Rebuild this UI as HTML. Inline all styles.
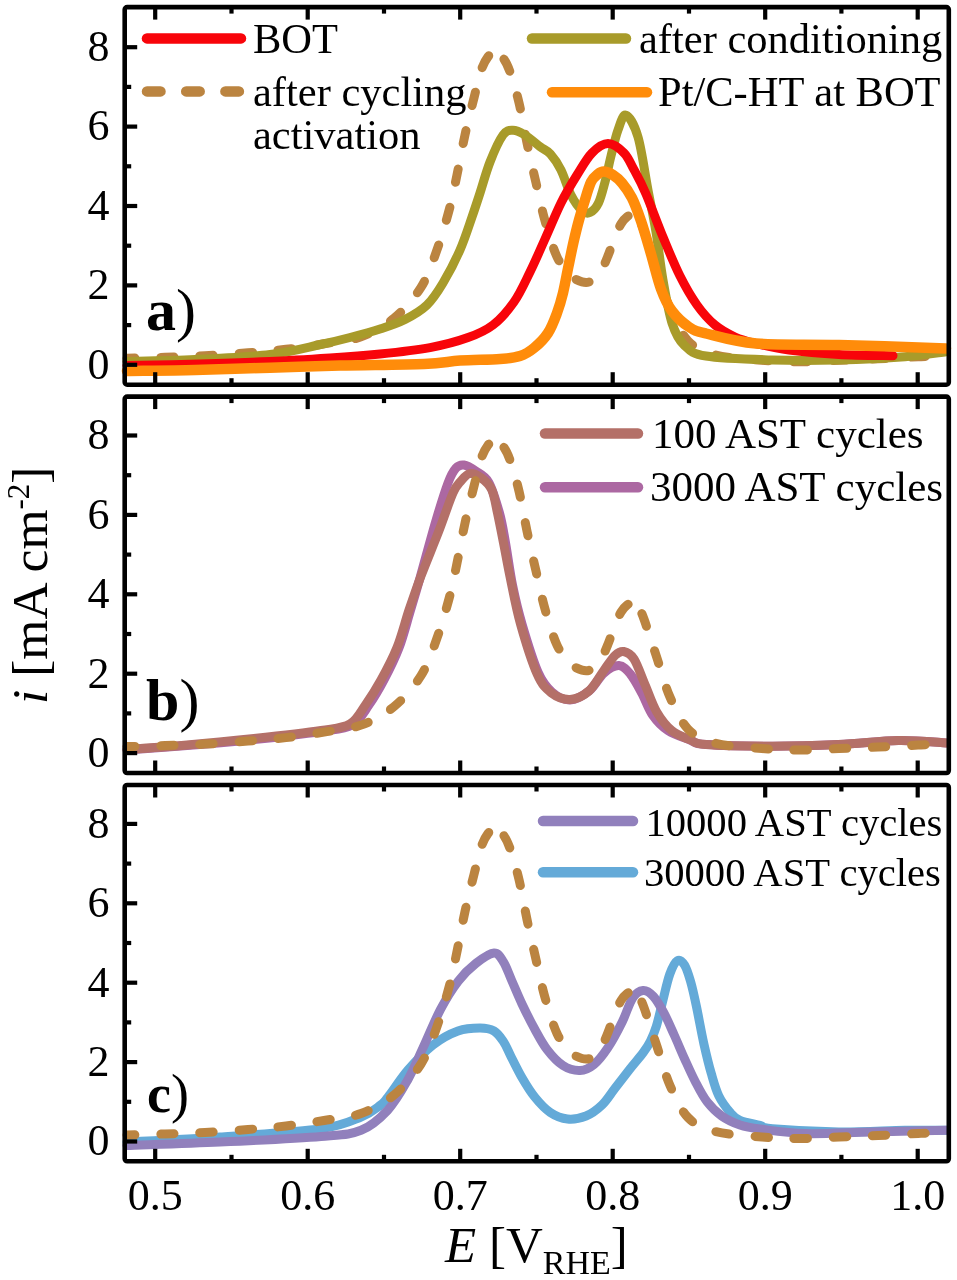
<!DOCTYPE html>
<html><head><meta charset="utf-8"><style>html,body{margin:0;padding:0;background:#fff;width:957px;height:1280px;overflow:hidden}</style></head>
<body><svg width="957" height="1280" viewBox="0 0 957 1280" style="display:block;filter:blur(0.45px);font-family:'Liberation Serif',serif"><path d="M127.0,358.3 C133.3,358.1 152.0,357.7 165.0,357.3 C178.0,356.9 191.2,356.6 205.0,355.8 C218.8,355.1 234.5,353.9 248.0,352.8 C261.5,351.7 273.3,350.8 286.0,349.3 C298.7,347.8 311.5,345.9 324.0,343.8 C336.5,341.7 349.3,341.1 361.0,336.8 C372.7,332.6 384.0,326.6 394.0,318.3 C404.0,310.1 413.8,298.7 421.0,287.3 C428.2,275.9 432.2,263.2 437.0,249.8 C441.8,236.4 446.7,219.3 450.0,206.8 C453.3,194.3 454.5,186.8 457.0,174.8 C459.5,162.8 462.2,147.6 465.0,134.8 C467.8,122.0 471.3,108.5 474.0,97.8 C476.7,87.1 478.7,77.6 481.0,70.8 C483.3,64.0 485.7,59.9 488.0,56.8 C490.3,53.7 492.5,52.1 495.0,52.3" fill="none" stroke="#bb8440" stroke-width="9" stroke-linecap="round" stroke-linejoin="round" stroke-dasharray="13.5 25.7" stroke-dashoffset="5.50"/>
<path d="M495.0,52.3 C497.5,52.5 500.5,54.6 503.0,57.8 C505.5,61.1 507.3,64.3 510.0,71.8 C512.7,79.3 516.2,91.0 519.0,102.8 C521.8,114.6 524.2,129.5 527.0,142.8 C529.8,156.1 533.0,169.8 536.0,182.8 C539.0,195.8 541.5,208.5 545.0,220.8 C548.5,233.1 552.8,247.8 557.0,256.8 C561.2,265.8 565.8,270.6 570.0,274.8 C574.2,279.0 578.3,280.8 582.0,281.8 C585.7,282.8 588.8,282.6 592.0,280.8 C595.2,279.0 598.3,275.0 601.0,270.8 C603.7,266.6 605.7,261.5 608.0,255.8 C610.3,250.1 612.8,242.1 615.0,236.8 C617.2,231.5 619.0,227.1 621.0,223.8 C623.0,220.5 625.0,218.3 627.0,216.8 C629.0,215.3 631.0,214.3 633.0,214.8" fill="none" stroke="#bb8440" stroke-width="9" stroke-linecap="round" stroke-linejoin="round" stroke-dasharray="13.5 25.7" stroke-dashoffset="576.46"/>
<path d="M633.0,214.8 C635.0,215.3 637.2,217.1 639.0,219.8 C640.8,222.5 642.2,226.0 644.0,230.8 C645.8,235.6 647.8,242.3 650.0,248.8 C652.2,255.3 653.7,259.8 657.0,269.8 C660.3,279.8 664.8,297.0 670.0,308.8 C675.2,320.6 680.5,333.1 688.0,340.8 C695.5,348.5 702.7,351.6 715.0,354.8 C727.3,358.1 748.0,359.1 762.0,360.3 C776.0,361.5 786.2,361.8 799.0,361.8 C811.8,361.8 825.8,360.8 839.0,360.3 C852.2,359.8 864.8,359.4 878.0,358.8 C891.2,358.2 906.7,357.3 918.0,356.8 C929.3,356.3 941.3,356.0 946.0,355.8" fill="none" stroke="#bb8440" stroke-width="9" stroke-linecap="round" stroke-linejoin="round" stroke-dasharray="13.5 25.7" stroke-dashoffset="926.58"/>
<path d="M127.0,361.5 C138.3,361.2 171.2,360.7 195.0,359.5 C218.8,358.3 249.1,357.0 270.0,354.5 C290.9,352.0 307.3,347.3 320.6,344.5 C333.9,341.7 340.1,340.1 350.0,337.5 C359.9,334.9 370.8,332.0 380.0,329.0 C389.2,326.0 397.2,323.5 405.0,319.5 C412.8,315.5 420.7,311.1 427.0,305.0 C433.3,298.9 437.5,292.2 443.0,283.0 C448.5,273.8 455.2,261.0 460.0,250.0 C464.8,239.0 468.7,226.5 472.0,217.0 C475.3,207.5 477.0,202.2 480.0,193.0 C483.0,183.8 486.2,171.7 490.0,162.0 C493.8,152.3 499.2,140.3 503.0,135.0 C506.8,129.7 509.3,130.3 513.0,130.3 C516.7,130.3 520.5,132.3 525.0,135.0 C529.5,137.7 535.8,143.5 540.0,146.7 C544.2,149.9 546.9,150.1 550.4,154.0 C553.9,157.9 557.6,163.2 561.0,170.0 C564.4,176.8 567.5,188.2 571.0,195.0 C574.5,201.8 578.8,207.6 582.0,210.5 C585.2,213.4 587.2,213.8 590.0,212.5 C592.8,211.2 596.0,208.1 598.5,203.0 C601.0,197.9 602.9,189.8 605.0,182.0 C607.1,174.2 608.8,164.7 611.0,156.0 C613.2,147.3 615.5,136.8 618.0,130.0 C620.5,123.2 622.7,114.1 626.0,115.3 C629.3,116.5 634.3,124.5 638.0,137.0 C641.7,149.4 645.0,174.2 648.0,190.0 C651.0,205.8 653.5,217.0 656.0,232.0 C658.5,247.0 660.3,264.8 663.0,280.0 C665.7,295.2 668.5,312.2 672.0,323.0 C675.5,333.8 678.3,339.5 684.0,345.0 C689.7,350.5 691.3,353.5 706.0,356.0 C720.7,358.5 750.0,359.3 772.0,360.0 C794.0,360.7 815.8,360.6 838.0,360.0 C860.2,359.4 887.0,358.1 905.0,356.7 C923.0,355.3 939.2,352.5 946.0,351.7" fill="none" stroke="#a89b2a" stroke-width="9" stroke-linecap="round" stroke-linejoin="round"/>
<path d="M127.0,365.5 C139.2,365.2 176.2,364.7 200.0,364.0 C223.8,363.3 248.3,362.5 270.0,361.5 C291.7,360.5 311.7,359.2 330.0,358.0 C348.3,356.8 363.3,355.7 380.0,354.0 C396.7,352.3 415.3,350.3 430.0,347.6 C444.7,344.9 457.5,341.4 468.0,337.6 C478.5,333.8 485.3,330.9 493.0,325.0 C500.7,319.1 507.8,310.8 514.0,302.0 C520.2,293.2 524.8,282.5 530.0,272.0 C535.2,261.5 539.8,250.5 545.0,239.0 C550.2,227.5 555.7,213.7 561.0,203.0 C566.3,192.3 571.8,183.3 577.0,175.0 C582.2,166.7 586.8,158.2 592.0,153.0 C597.2,147.8 602.7,143.6 608.0,143.6 C613.3,143.6 619.7,148.7 624.0,153.0 C628.3,157.3 630.3,162.9 634.0,169.7 C637.7,176.5 641.2,182.8 646.0,194.0 C650.8,205.2 657.3,223.3 663.0,237.0 C668.7,250.7 674.3,264.7 680.0,276.0 C685.7,287.3 691.2,296.8 697.0,305.0 C702.8,313.2 708.7,319.7 715.0,325.0 C721.3,330.3 728.2,333.9 735.0,337.0 C741.8,340.1 747.0,341.3 756.0,343.5 C765.0,345.7 775.2,348.2 789.0,350.0 C802.8,351.8 821.7,353.4 839.0,354.4 C856.3,355.3 884.0,355.5 893.0,355.7" fill="none" stroke="#f8040a" stroke-width="9" stroke-linecap="round" stroke-linejoin="round"/>
<path d="M127.0,371.0 C138.3,370.8 171.2,370.6 195.0,370.0 C218.8,369.4 245.8,368.4 270.0,367.7 C294.2,367.0 314.3,366.2 340.0,365.6 C365.7,365.0 404.0,364.8 424.0,364.0 C444.0,363.2 447.3,361.4 460.0,360.6 C472.7,359.8 490.0,359.8 500.0,359.0 C510.0,358.2 514.3,357.8 520.0,356.0 C525.7,354.2 529.3,351.8 534.0,348.0 C538.7,344.2 544.2,338.8 548.0,333.0 C551.8,327.2 554.5,319.7 557.0,313.0 C559.5,306.3 561.1,300.8 563.0,293.0 C564.9,285.2 566.7,274.8 568.5,266.0 C570.3,257.2 572.2,247.7 574.0,240.0 C575.8,232.3 577.3,226.2 579.0,220.0 C580.7,213.8 582.0,209.3 584.0,203.0 C586.0,196.7 588.7,186.8 591.0,182.0 C593.3,177.2 595.8,175.8 598.0,174.0 C600.2,172.2 601.5,171.3 604.0,171.5 C606.5,171.7 610.0,173.1 613.0,175.0 C616.0,176.9 618.8,179.2 622.0,183.0 C625.2,186.8 628.8,191.7 632.0,198.0 C635.2,204.3 637.8,211.7 641.0,221.0 C644.2,230.3 647.7,242.7 651.0,254.0 C654.3,265.3 657.5,279.5 661.0,289.0 C664.5,298.5 667.3,304.7 672.0,311.0 C676.7,317.3 683.3,323.2 689.0,327.0 C694.7,330.8 694.8,330.8 706.0,333.5 C717.2,336.2 733.8,341.6 756.0,343.5 C778.2,345.4 807.3,344.2 839.0,345.0 C870.7,345.8 928.2,347.8 946.0,348.4" fill="none" stroke="#ff8c0a" stroke-width="10.5" stroke-linecap="round" stroke-linejoin="round"/>
<path d="M127.0,750.0 C137.0,749.2 165.8,747.2 187.0,745.5 C208.2,743.8 231.7,741.8 254.0,739.5 C276.3,737.2 304.7,733.9 321.0,731.5 C337.3,729.1 344.0,729.4 352.0,725.0 C360.0,720.6 363.7,712.5 369.0,705.0 C374.3,697.5 379.0,689.5 384.0,680.0 C389.0,670.5 394.7,659.3 399.0,648.0 C403.3,636.7 406.5,623.7 410.0,612.0 C413.5,600.3 415.7,593.2 420.0,578.0 C424.3,562.8 431.3,536.3 436.0,520.5 C440.7,504.7 444.7,491.8 448.0,483.0 C451.3,474.2 453.3,471.0 456.0,468.0 C458.7,465.0 460.7,464.5 464.0,465.0 C467.3,465.5 471.5,468.1 475.6,471.0 C479.7,473.9 484.8,475.4 488.8,482.4 C492.8,489.4 496.7,503.1 499.5,513.0 C502.3,522.9 503.2,529.8 505.4,542.0 C507.6,554.2 509.9,572.3 512.7,586.0 C515.5,599.7 517.8,609.7 522.0,624.0 C526.2,638.3 533.0,660.7 538.0,672.0 C543.0,683.3 546.7,687.3 552.0,692.0 C557.3,696.7 563.8,700.2 570.0,700.0 C576.2,699.8 583.3,695.5 589.0,691.0 C594.7,686.5 599.0,677.2 604.0,673.0 C609.0,668.8 614.6,665.4 619.0,665.6 C623.4,665.8 626.5,669.5 630.3,674.0 C634.1,678.5 637.9,685.9 641.6,692.8 C645.4,699.7 648.4,709.1 652.8,715.4 C657.2,721.7 661.7,726.4 667.9,730.5 C674.1,734.6 683.6,737.6 690.0,740.0 C696.4,742.4 692.2,743.6 706.0,744.6 C719.8,745.6 750.4,746.2 772.5,746.2 C794.6,746.2 817.7,745.5 838.7,744.6 C859.7,743.7 880.5,740.9 898.4,740.6 C916.3,740.3 938.4,742.5 946.4,742.9" fill="none" stroke="#ac68a2" stroke-width="9" stroke-linecap="round" stroke-linejoin="round"/>
<path d="M127.0,749.5 C137.0,748.8 165.8,746.8 187.0,745.0 C208.2,743.2 231.7,740.9 254.0,738.5 C276.3,736.1 305.0,732.9 321.0,730.5 C337.0,728.1 342.5,728.4 350.0,724.0 C357.5,719.6 360.8,711.3 366.0,704.0 C371.2,696.7 375.8,689.4 381.0,680.0 C386.2,670.6 392.3,659.2 397.0,647.5 C401.7,635.8 405.0,621.9 409.0,610.0 C413.0,598.1 416.0,589.2 421.0,576.0 C426.0,562.8 433.7,544.5 439.0,530.7 C444.3,516.9 449.3,501.3 453.0,493.0 C456.7,484.7 458.2,484.2 461.0,481.0 C463.8,477.8 466.3,474.1 469.7,473.6 C473.1,473.1 477.7,475.3 481.4,478.0 C485.1,480.7 489.0,483.8 491.7,489.7 C494.4,495.6 495.6,504.3 497.5,513.1 C499.4,521.9 501.2,531.2 503.4,542.4 C505.6,553.5 507.8,566.4 510.7,580.0 C513.5,593.6 516.1,608.3 520.5,624.0 C524.9,639.7 532.1,662.7 537.2,674.2 C542.3,685.7 545.8,688.6 551.3,692.8 C556.8,697.0 563.8,699.7 570.1,699.4 C576.4,699.1 583.3,695.9 588.9,691.0 C594.5,686.1 599.5,676.3 603.9,670.3 C608.3,664.3 611.9,658.3 615.2,655.2 C618.5,652.1 620.6,650.9 623.7,651.5 C626.8,652.1 630.4,653.4 634.0,659.0 C637.6,664.6 641.5,676.5 645.3,685.3 C649.1,694.1 652.2,704.2 656.6,711.7 C661.0,719.2 666.1,725.8 671.7,730.5 C677.4,735.2 684.8,737.5 690.5,739.9 C696.2,742.2 692.5,743.5 706.2,744.6 C719.9,745.7 750.4,746.2 772.5,746.2 C794.6,746.2 817.7,745.5 838.7,744.6 C859.7,743.7 880.5,740.9 898.4,740.6 C916.3,740.3 938.4,742.5 946.4,742.9" fill="none" stroke="#b47068" stroke-width="9" stroke-linecap="round" stroke-linejoin="round"/>
<path d="M127.0,746.6 C133.3,746.4 152.0,746.0 165.0,745.6 C178.0,745.2 191.2,744.9 205.0,744.1 C218.8,743.4 234.5,742.2 248.0,741.1 C261.5,740.0 273.3,739.1 286.0,737.6 C298.7,736.1 311.5,734.2 324.0,732.1 C336.5,730.0 349.3,729.4 361.0,725.1 C372.7,720.9 384.0,714.9 394.0,706.6 C404.0,698.4 413.8,687.0 421.0,675.6 C428.2,664.2 432.2,651.5 437.0,638.1 C441.8,624.7 446.7,607.6 450.0,595.1 C453.3,582.6 454.5,575.1 457.0,563.1 C459.5,551.1 462.2,535.9 465.0,523.1 C467.8,510.3 471.3,496.8 474.0,486.1 C476.7,475.4 478.7,465.9 481.0,459.1 C483.3,452.3 485.7,448.2 488.0,445.1 C490.3,442.0 492.5,440.4 495.0,440.6" fill="none" stroke="#bb8440" stroke-width="9" stroke-linecap="round" stroke-linejoin="round" stroke-dasharray="13.5 25.7" stroke-dashoffset="5.50"/>
<path d="M495.0,440.6 C497.5,440.8 500.5,442.9 503.0,446.1 C505.5,449.4 507.3,452.6 510.0,460.1 C512.7,467.6 516.2,479.3 519.0,491.1 C521.8,502.9 524.2,517.8 527.0,531.1 C529.8,544.4 533.0,558.1 536.0,571.1 C539.0,584.1 541.5,596.8 545.0,609.1 C548.5,621.4 552.8,636.1 557.0,645.1 C561.2,654.1 565.8,658.9 570.0,663.1 C574.2,667.3 578.3,669.1 582.0,670.1 C585.7,671.1 588.8,670.9 592.0,669.1 C595.2,667.3 598.3,663.3 601.0,659.1 C603.7,654.9 605.7,649.8 608.0,644.1 C610.3,638.4 612.8,630.4 615.0,625.1 C617.2,619.8 619.0,615.4 621.0,612.1 C623.0,608.8 625.0,606.6 627.0,605.1 C629.0,603.6 631.0,602.6 633.0,603.1" fill="none" stroke="#bb8440" stroke-width="9" stroke-linecap="round" stroke-linejoin="round" stroke-dasharray="13.5 25.7" stroke-dashoffset="576.46"/>
<path d="M633.0,603.1 C635.0,603.6 637.2,605.4 639.0,608.1 C640.8,610.8 642.2,614.3 644.0,619.1 C645.8,623.9 647.8,630.6 650.0,637.1 C652.2,643.6 653.7,648.1 657.0,658.1 C660.3,668.1 664.8,685.3 670.0,697.1 C675.2,708.9 680.5,721.4 688.0,729.1 C695.5,736.8 702.7,739.9 715.0,743.1 C727.3,746.4 748.0,747.4 762.0,748.6 C776.0,749.8 786.2,750.1 799.0,750.1 C811.8,750.1 825.8,749.1 839.0,748.6 C852.2,748.1 864.8,747.7 878.0,747.1 C891.2,746.5 906.7,745.6 918.0,745.1 C929.3,744.6 941.3,744.3 946.0,744.1" fill="none" stroke="#bb8440" stroke-width="9" stroke-linecap="round" stroke-linejoin="round" stroke-dasharray="13.5 25.7" stroke-dashoffset="926.58"/>
<path d="M127.0,1142.0 C142.5,1141.2 187.7,1139.2 220.0,1137.0 C252.3,1134.8 297.5,1132.0 321.0,1128.7 C344.5,1125.4 351.2,1120.9 361.0,1117.0 C370.8,1113.1 375.5,1108.8 380.0,1105.5 C384.5,1102.2 383.3,1102.9 388.0,1097.0 C392.7,1091.1 400.5,1078.7 408.0,1070.0 C415.5,1061.3 424.7,1051.5 433.0,1045.0 C441.3,1038.5 450.2,1033.8 458.0,1031.0 C465.8,1028.2 474.0,1028.0 480.0,1028.0 C486.0,1028.0 490.1,1028.8 494.0,1031.0 C497.9,1033.2 500.5,1037.2 503.4,1041.5 C506.3,1045.8 508.1,1050.9 511.2,1057.0 C514.4,1063.1 518.3,1071.3 522.2,1078.0 C526.1,1084.7 530.0,1091.2 534.7,1097.0 C539.4,1102.8 544.8,1108.8 550.3,1112.5 C555.8,1116.2 561.5,1118.4 567.5,1119.0 C573.5,1119.6 580.2,1118.3 586.0,1116.0 C591.8,1113.7 597.2,1109.6 602.0,1105.0 C606.8,1100.4 610.2,1094.5 614.8,1088.5 C619.4,1082.5 625.0,1075.2 629.7,1069.2 C634.4,1063.2 639.6,1057.5 643.1,1052.8 C646.6,1048.1 648.3,1045.5 650.5,1041.0 C652.7,1036.5 654.4,1032.5 656.4,1026.1 C658.4,1019.7 660.2,1011.1 662.4,1002.4 C664.6,993.7 667.3,981.0 669.8,974.1 C672.3,967.2 674.7,962.3 677.2,960.8 C679.7,959.3 682.4,961.7 684.6,965.2 C686.8,968.7 688.6,974.7 690.6,981.6 C692.6,988.5 694.3,996.4 696.5,1006.8 C698.7,1017.2 701.4,1032.8 703.9,1043.9 C706.4,1055.0 708.8,1064.9 711.3,1073.6 C713.8,1082.3 715.6,1089.3 718.8,1095.9 C722.0,1102.5 727.1,1108.9 730.6,1113.0 C734.1,1117.1 735.1,1118.3 740.0,1120.4 C744.9,1122.5 754.6,1124.0 760.0,1125.4 C765.4,1126.8 759.4,1127.6 772.5,1128.7 C785.6,1129.8 816.6,1131.7 838.7,1132.0 C860.8,1132.3 887.0,1130.6 905.0,1130.3 C923.0,1130.0 939.5,1130.3 946.4,1130.3" fill="none" stroke="#64aad8" stroke-width="9" stroke-linecap="round" stroke-linejoin="round"/>
<path d="M127.0,1145.4 C142.5,1144.8 187.7,1143.5 220.0,1142.0 C252.3,1140.5 297.5,1138.4 321.0,1136.4 C344.5,1134.5 349.9,1134.7 361.0,1130.3 C372.1,1125.9 379.8,1118.6 387.6,1110.3 C395.4,1102.0 401.8,1090.5 407.6,1080.2 C413.4,1069.9 417.1,1060.5 422.6,1048.7 C428.1,1036.9 434.5,1020.9 440.4,1009.6 C446.3,998.4 452.3,988.9 458.2,981.2 C464.1,973.5 469.9,968.1 475.9,963.4 C481.9,958.7 489.4,953.2 494.0,953.0 C498.6,952.8 500.6,957.5 503.5,962.0 C506.4,966.5 508.4,973.0 511.5,980.0 C514.6,987.0 518.1,995.8 522.0,1004.0 C525.9,1012.2 530.5,1021.4 534.7,1029.0 C538.9,1036.6 542.3,1043.4 547.0,1049.5 C551.7,1055.6 557.5,1062.0 563.0,1065.5 C568.5,1069.0 574.8,1070.7 580.0,1070.5 C585.2,1070.3 589.3,1068.2 594.0,1064.4 C598.7,1060.6 603.3,1054.6 608.0,1047.5 C612.7,1040.4 618.2,1030.0 622.3,1021.7 C626.4,1013.4 629.2,1003.1 632.7,997.9 C636.2,992.7 639.7,990.8 643.1,990.5 C646.5,990.2 650.0,992.7 653.4,996.4 C656.8,1000.1 660.3,1006.3 663.8,1012.7 C667.3,1019.1 670.7,1027.3 674.2,1035.0 C677.7,1042.7 681.1,1051.1 684.6,1058.8 C688.1,1066.5 691.3,1073.9 695.0,1081.0 C698.7,1088.1 702.4,1095.7 706.9,1101.5 C711.4,1107.3 716.2,1112.1 721.7,1116.0 C727.2,1119.9 733.6,1122.8 740.0,1125.0 C746.4,1127.2 749.1,1127.6 760.0,1129.0 C770.9,1130.4 787.0,1133.1 805.6,1133.6 C824.2,1134.1 848.4,1132.5 871.9,1132.0 C895.4,1131.5 934.0,1130.6 946.4,1130.3" fill="none" stroke="#9180bc" stroke-width="9" stroke-linecap="round" stroke-linejoin="round"/>
<path d="M127.0,1135.0 C133.3,1134.8 152.0,1134.4 165.0,1134.0 C178.0,1133.6 191.2,1133.2 205.0,1132.5 C218.8,1131.8 234.5,1130.6 248.0,1129.5 C261.5,1128.4 273.3,1127.5 286.0,1126.0 C298.7,1124.5 311.5,1122.6 324.0,1120.5 C336.5,1118.4 349.3,1117.8 361.0,1113.5 C372.7,1109.2 384.0,1103.2 394.0,1095.0 C404.0,1086.8 413.8,1075.4 421.0,1064.0 C428.2,1052.6 432.2,1039.9 437.0,1026.5 C441.8,1013.1 446.7,996.0 450.0,983.5 C453.3,971.0 454.5,963.5 457.0,951.5 C459.5,939.5 462.2,924.3 465.0,911.5 C467.8,898.7 471.3,885.2 474.0,874.5 C476.7,863.8 478.7,854.3 481.0,847.5 C483.3,840.7 485.7,836.6 488.0,833.5 C490.3,830.4 492.5,828.8 495.0,829.0" fill="none" stroke="#bb8440" stroke-width="9" stroke-linecap="round" stroke-linejoin="round" stroke-dasharray="13.5 25.7" stroke-dashoffset="5.50"/>
<path d="M495.0,829.0 C497.5,829.2 500.5,831.2 503.0,834.5 C505.5,837.8 507.3,841.0 510.0,848.5 C512.7,856.0 516.2,867.7 519.0,879.5 C521.8,891.3 524.2,906.2 527.0,919.5 C529.8,932.8 533.0,946.5 536.0,959.5 C539.0,972.5 541.5,985.2 545.0,997.5 C548.5,1009.8 552.8,1024.5 557.0,1033.5 C561.2,1042.5 565.8,1047.3 570.0,1051.5 C574.2,1055.7 578.3,1057.5 582.0,1058.5 C585.7,1059.5 588.8,1059.3 592.0,1057.5 C595.2,1055.7 598.3,1051.7 601.0,1047.5 C603.7,1043.3 605.7,1038.2 608.0,1032.5 C610.3,1026.8 612.8,1018.8 615.0,1013.5 C617.2,1008.2 619.0,1003.8 621.0,1000.5 C623.0,997.2 625.0,995.0 627.0,993.5 C629.0,992.0 631.0,991.0 633.0,991.5" fill="none" stroke="#bb8440" stroke-width="9" stroke-linecap="round" stroke-linejoin="round" stroke-dasharray="13.5 25.7" stroke-dashoffset="576.46"/>
<path d="M633.0,991.5 C635.0,992.0 637.2,993.8 639.0,996.5 C640.8,999.2 642.2,1002.7 644.0,1007.5 C645.8,1012.3 647.8,1019.0 650.0,1025.5 C652.2,1032.0 653.7,1036.5 657.0,1046.5 C660.3,1056.5 664.8,1073.7 670.0,1085.5 C675.2,1097.3 680.5,1109.8 688.0,1117.5 C695.5,1125.2 702.7,1128.2 715.0,1131.5 C727.3,1134.8 748.0,1135.8 762.0,1137.0 C776.0,1138.2 786.2,1138.5 799.0,1138.5 C811.8,1138.5 825.8,1137.5 839.0,1137.0 C852.2,1136.5 864.8,1136.1 878.0,1135.5 C891.2,1134.9 906.7,1134.0 918.0,1133.5 C929.3,1133.0 941.3,1132.7 946.0,1132.5" fill="none" stroke="#bb8440" stroke-width="9" stroke-linecap="round" stroke-linejoin="round" stroke-dasharray="13.5 25.7" stroke-dashoffset="926.58"/>
<line x1="124.7" y1="364.8" x2="137.2" y2="364.8" stroke="#000" stroke-width="4.2"/>
<line x1="124.7" y1="325.1" x2="131.2" y2="325.1" stroke="#000" stroke-width="4.2"/>
<line x1="124.7" y1="285.4" x2="137.2" y2="285.4" stroke="#000" stroke-width="4.2"/>
<line x1="124.7" y1="245.7" x2="131.2" y2="245.7" stroke="#000" stroke-width="4.2"/>
<line x1="124.7" y1="206.0" x2="137.2" y2="206.0" stroke="#000" stroke-width="4.2"/>
<line x1="124.7" y1="166.3" x2="131.2" y2="166.3" stroke="#000" stroke-width="4.2"/>
<line x1="124.7" y1="126.6" x2="137.2" y2="126.6" stroke="#000" stroke-width="4.2"/>
<line x1="124.7" y1="86.9" x2="131.2" y2="86.9" stroke="#000" stroke-width="4.2"/>
<line x1="124.7" y1="47.2" x2="137.2" y2="47.2" stroke="#000" stroke-width="4.2"/>
<line x1="155.2" y1="384.7" x2="155.2" y2="372.2" stroke="#000" stroke-width="4.2"/>
<line x1="155.2" y1="7.1" x2="155.2" y2="19.6" stroke="#000" stroke-width="4.2"/>
<line x1="231.5" y1="384.7" x2="231.5" y2="378.2" stroke="#000" stroke-width="4.2"/>
<line x1="231.5" y1="7.1" x2="231.5" y2="13.6" stroke="#000" stroke-width="4.2"/>
<line x1="307.7" y1="384.7" x2="307.7" y2="372.2" stroke="#000" stroke-width="4.2"/>
<line x1="307.7" y1="7.1" x2="307.7" y2="19.6" stroke="#000" stroke-width="4.2"/>
<line x1="384.0" y1="384.7" x2="384.0" y2="378.2" stroke="#000" stroke-width="4.2"/>
<line x1="384.0" y1="7.1" x2="384.0" y2="13.6" stroke="#000" stroke-width="4.2"/>
<line x1="460.2" y1="384.7" x2="460.2" y2="372.2" stroke="#000" stroke-width="4.2"/>
<line x1="460.2" y1="7.1" x2="460.2" y2="19.6" stroke="#000" stroke-width="4.2"/>
<line x1="536.5" y1="384.7" x2="536.5" y2="378.2" stroke="#000" stroke-width="4.2"/>
<line x1="536.5" y1="7.1" x2="536.5" y2="13.6" stroke="#000" stroke-width="4.2"/>
<line x1="612.7" y1="384.7" x2="612.7" y2="372.2" stroke="#000" stroke-width="4.2"/>
<line x1="612.7" y1="7.1" x2="612.7" y2="19.6" stroke="#000" stroke-width="4.2"/>
<line x1="689.0" y1="384.7" x2="689.0" y2="378.2" stroke="#000" stroke-width="4.2"/>
<line x1="689.0" y1="7.1" x2="689.0" y2="13.6" stroke="#000" stroke-width="4.2"/>
<line x1="765.2" y1="384.7" x2="765.2" y2="372.2" stroke="#000" stroke-width="4.2"/>
<line x1="765.2" y1="7.1" x2="765.2" y2="19.6" stroke="#000" stroke-width="4.2"/>
<line x1="841.4" y1="384.7" x2="841.4" y2="378.2" stroke="#000" stroke-width="4.2"/>
<line x1="841.4" y1="7.1" x2="841.4" y2="13.6" stroke="#000" stroke-width="4.2"/>
<line x1="917.7" y1="384.7" x2="917.7" y2="372.2" stroke="#000" stroke-width="4.2"/>
<line x1="917.7" y1="7.1" x2="917.7" y2="19.6" stroke="#000" stroke-width="4.2"/>
<rect x="124.7" y="7.1" width="824.1" height="377.6" fill="none" stroke="#000" stroke-width="4.6" rx="2.5"/>
<text x="109.5" y="378.6" text-anchor="end" font-size="44">0</text>
<text x="109.5" y="299.2" text-anchor="end" font-size="44">2</text>
<text x="109.5" y="219.8" text-anchor="end" font-size="44">4</text>
<text x="109.5" y="140.4" text-anchor="end" font-size="44">6</text>
<text x="109.5" y="61.0" text-anchor="end" font-size="44">8</text>
<line x1="124.7" y1="753.1" x2="137.2" y2="753.1" stroke="#000" stroke-width="4.2"/>
<line x1="124.7" y1="713.4" x2="131.2" y2="713.4" stroke="#000" stroke-width="4.2"/>
<line x1="124.7" y1="673.7" x2="137.2" y2="673.7" stroke="#000" stroke-width="4.2"/>
<line x1="124.7" y1="634.0" x2="131.2" y2="634.0" stroke="#000" stroke-width="4.2"/>
<line x1="124.7" y1="594.3" x2="137.2" y2="594.3" stroke="#000" stroke-width="4.2"/>
<line x1="124.7" y1="554.6" x2="131.2" y2="554.6" stroke="#000" stroke-width="4.2"/>
<line x1="124.7" y1="514.9" x2="137.2" y2="514.9" stroke="#000" stroke-width="4.2"/>
<line x1="124.7" y1="475.2" x2="131.2" y2="475.2" stroke="#000" stroke-width="4.2"/>
<line x1="124.7" y1="435.5" x2="137.2" y2="435.5" stroke="#000" stroke-width="4.2"/>
<line x1="155.2" y1="773.0" x2="155.2" y2="760.5" stroke="#000" stroke-width="4.2"/>
<line x1="155.2" y1="396.6" x2="155.2" y2="409.1" stroke="#000" stroke-width="4.2"/>
<line x1="231.5" y1="773.0" x2="231.5" y2="766.5" stroke="#000" stroke-width="4.2"/>
<line x1="231.5" y1="396.6" x2="231.5" y2="403.1" stroke="#000" stroke-width="4.2"/>
<line x1="307.7" y1="773.0" x2="307.7" y2="760.5" stroke="#000" stroke-width="4.2"/>
<line x1="307.7" y1="396.6" x2="307.7" y2="409.1" stroke="#000" stroke-width="4.2"/>
<line x1="384.0" y1="773.0" x2="384.0" y2="766.5" stroke="#000" stroke-width="4.2"/>
<line x1="384.0" y1="396.6" x2="384.0" y2="403.1" stroke="#000" stroke-width="4.2"/>
<line x1="460.2" y1="773.0" x2="460.2" y2="760.5" stroke="#000" stroke-width="4.2"/>
<line x1="460.2" y1="396.6" x2="460.2" y2="409.1" stroke="#000" stroke-width="4.2"/>
<line x1="536.5" y1="773.0" x2="536.5" y2="766.5" stroke="#000" stroke-width="4.2"/>
<line x1="536.5" y1="396.6" x2="536.5" y2="403.1" stroke="#000" stroke-width="4.2"/>
<line x1="612.7" y1="773.0" x2="612.7" y2="760.5" stroke="#000" stroke-width="4.2"/>
<line x1="612.7" y1="396.6" x2="612.7" y2="409.1" stroke="#000" stroke-width="4.2"/>
<line x1="689.0" y1="773.0" x2="689.0" y2="766.5" stroke="#000" stroke-width="4.2"/>
<line x1="689.0" y1="396.6" x2="689.0" y2="403.1" stroke="#000" stroke-width="4.2"/>
<line x1="765.2" y1="773.0" x2="765.2" y2="760.5" stroke="#000" stroke-width="4.2"/>
<line x1="765.2" y1="396.6" x2="765.2" y2="409.1" stroke="#000" stroke-width="4.2"/>
<line x1="841.4" y1="773.0" x2="841.4" y2="766.5" stroke="#000" stroke-width="4.2"/>
<line x1="841.4" y1="396.6" x2="841.4" y2="403.1" stroke="#000" stroke-width="4.2"/>
<line x1="917.7" y1="773.0" x2="917.7" y2="760.5" stroke="#000" stroke-width="4.2"/>
<line x1="917.7" y1="396.6" x2="917.7" y2="409.1" stroke="#000" stroke-width="4.2"/>
<rect x="124.7" y="396.6" width="824.1" height="376.4" fill="none" stroke="#000" stroke-width="4.6" rx="2.5"/>
<text x="109.5" y="766.9" text-anchor="end" font-size="44">0</text>
<text x="109.5" y="687.5" text-anchor="end" font-size="44">2</text>
<text x="109.5" y="608.1" text-anchor="end" font-size="44">4</text>
<text x="109.5" y="528.7" text-anchor="end" font-size="44">6</text>
<text x="109.5" y="449.3" text-anchor="end" font-size="44">8</text>
<line x1="124.7" y1="1141.5" x2="137.2" y2="1141.5" stroke="#000" stroke-width="4.2"/>
<line x1="124.7" y1="1101.8" x2="131.2" y2="1101.8" stroke="#000" stroke-width="4.2"/>
<line x1="124.7" y1="1062.1" x2="137.2" y2="1062.1" stroke="#000" stroke-width="4.2"/>
<line x1="124.7" y1="1022.4" x2="131.2" y2="1022.4" stroke="#000" stroke-width="4.2"/>
<line x1="124.7" y1="982.7" x2="137.2" y2="982.7" stroke="#000" stroke-width="4.2"/>
<line x1="124.7" y1="943.0" x2="131.2" y2="943.0" stroke="#000" stroke-width="4.2"/>
<line x1="124.7" y1="903.3" x2="137.2" y2="903.3" stroke="#000" stroke-width="4.2"/>
<line x1="124.7" y1="863.6" x2="131.2" y2="863.6" stroke="#000" stroke-width="4.2"/>
<line x1="124.7" y1="823.9" x2="137.2" y2="823.9" stroke="#000" stroke-width="4.2"/>
<line x1="155.2" y1="1161.3" x2="155.2" y2="1148.8" stroke="#000" stroke-width="4.2"/>
<line x1="155.2" y1="785.0" x2="155.2" y2="797.5" stroke="#000" stroke-width="4.2"/>
<line x1="231.5" y1="1161.3" x2="231.5" y2="1154.8" stroke="#000" stroke-width="4.2"/>
<line x1="231.5" y1="785.0" x2="231.5" y2="791.5" stroke="#000" stroke-width="4.2"/>
<line x1="307.7" y1="1161.3" x2="307.7" y2="1148.8" stroke="#000" stroke-width="4.2"/>
<line x1="307.7" y1="785.0" x2="307.7" y2="797.5" stroke="#000" stroke-width="4.2"/>
<line x1="384.0" y1="1161.3" x2="384.0" y2="1154.8" stroke="#000" stroke-width="4.2"/>
<line x1="384.0" y1="785.0" x2="384.0" y2="791.5" stroke="#000" stroke-width="4.2"/>
<line x1="460.2" y1="1161.3" x2="460.2" y2="1148.8" stroke="#000" stroke-width="4.2"/>
<line x1="460.2" y1="785.0" x2="460.2" y2="797.5" stroke="#000" stroke-width="4.2"/>
<line x1="536.5" y1="1161.3" x2="536.5" y2="1154.8" stroke="#000" stroke-width="4.2"/>
<line x1="536.5" y1="785.0" x2="536.5" y2="791.5" stroke="#000" stroke-width="4.2"/>
<line x1="612.7" y1="1161.3" x2="612.7" y2="1148.8" stroke="#000" stroke-width="4.2"/>
<line x1="612.7" y1="785.0" x2="612.7" y2="797.5" stroke="#000" stroke-width="4.2"/>
<line x1="689.0" y1="1161.3" x2="689.0" y2="1154.8" stroke="#000" stroke-width="4.2"/>
<line x1="689.0" y1="785.0" x2="689.0" y2="791.5" stroke="#000" stroke-width="4.2"/>
<line x1="765.2" y1="1161.3" x2="765.2" y2="1148.8" stroke="#000" stroke-width="4.2"/>
<line x1="765.2" y1="785.0" x2="765.2" y2="797.5" stroke="#000" stroke-width="4.2"/>
<line x1="841.4" y1="1161.3" x2="841.4" y2="1154.8" stroke="#000" stroke-width="4.2"/>
<line x1="841.4" y1="785.0" x2="841.4" y2="791.5" stroke="#000" stroke-width="4.2"/>
<line x1="917.7" y1="1161.3" x2="917.7" y2="1148.8" stroke="#000" stroke-width="4.2"/>
<line x1="917.7" y1="785.0" x2="917.7" y2="797.5" stroke="#000" stroke-width="4.2"/>
<rect x="124.7" y="785.0" width="824.1" height="376.3" fill="none" stroke="#000" stroke-width="4.6" rx="2.5"/>
<text x="109.5" y="1155.3" text-anchor="end" font-size="44">0</text>
<text x="109.5" y="1075.9" text-anchor="end" font-size="44">2</text>
<text x="109.5" y="996.5" text-anchor="end" font-size="44">4</text>
<text x="109.5" y="917.1" text-anchor="end" font-size="44">6</text>
<text x="109.5" y="837.7" text-anchor="end" font-size="44">8</text>
<text x="155.2" y="1209.5" text-anchor="middle" font-size="44">0.5</text>
<text x="307.7" y="1209.5" text-anchor="middle" font-size="44">0.6</text>
<text x="460.2" y="1209.5" text-anchor="middle" font-size="44">0.7</text>
<text x="612.7" y="1209.5" text-anchor="middle" font-size="44">0.8</text>
<text x="765.2" y="1209.5" text-anchor="middle" font-size="44">0.9</text>
<text x="917.7" y="1209.5" text-anchor="middle" font-size="44">1.0</text>
<line x1="147.0" y1="38.4" x2="241.0" y2="38.4" stroke="#f8040a" stroke-width="10.5" stroke-linecap="round"/>
<line x1="147.0" y1="91.4" x2="241.0" y2="91.4" stroke="#bb8440" stroke-width="10.5" stroke-linecap="round" stroke-dasharray="13.5 25.7"/>
<line x1="532.0" y1="38.5" x2="626.0" y2="38.5" stroke="#a89b2a" stroke-width="10.5" stroke-linecap="round"/>
<line x1="552.0" y1="92.2" x2="647.0" y2="92.2" stroke="#ff8c0a" stroke-width="10.5" stroke-linecap="round"/>
<line x1="545.0" y1="433.5" x2="638.0" y2="433.5" stroke="#b47068" stroke-width="10.5" stroke-linecap="round"/>
<line x1="545.0" y1="487.2" x2="638.0" y2="487.2" stroke="#ac68a2" stroke-width="10.5" stroke-linecap="round"/>
<line x1="543.0" y1="821.0" x2="633.0" y2="821.0" stroke="#9180bc" stroke-width="10.5" stroke-linecap="round"/>
<line x1="543.0" y1="872.2" x2="633.0" y2="872.2" stroke="#64aad8" stroke-width="10.5" stroke-linecap="round"/>
<text x="253" y="53" font-size="42.5">BOT</text>
<text x="253" y="106" font-size="42.5">after cycling</text>
<text x="253" y="149" font-size="42.5">activation</text>
<text x="639" y="52.5" font-size="42.5">after conditioning</text>
<text x="658" y="106" font-size="42.5">Pt/C-HT at BOT</text>
<text x="652" y="448" font-size="43">100 AST cycles</text>
<text x="650" y="500.5" font-size="43">3000 AST cycles</text>
<text x="645.5" y="836" font-size="40.6">10000 AST cycles</text>
<text x="644" y="886" font-size="40.6">30000 AST cycles</text>
<text x="146" y="330" font-size="60"><tspan font-weight="bold">a</tspan>)</text>
<text x="146" y="720" font-size="60"><tspan font-weight="bold">b</tspan>)</text>
<text x="147" y="1112" font-size="54"><tspan font-weight="bold">c</tspan>)</text>
<text transform="translate(47,704) rotate(-90)" font-size="51.5"><tspan font-style="italic">i</tspan> [mA cm<tspan dy="-18" font-size="31">-2</tspan><tspan dy="18">]</tspan></text>
<text x="445" y="1262" font-size="51"><tspan font-style="italic">E</tspan> [V<tspan dy="12" font-size="34">RHE</tspan><tspan dy="-12">]</tspan></text></svg></body></html>
